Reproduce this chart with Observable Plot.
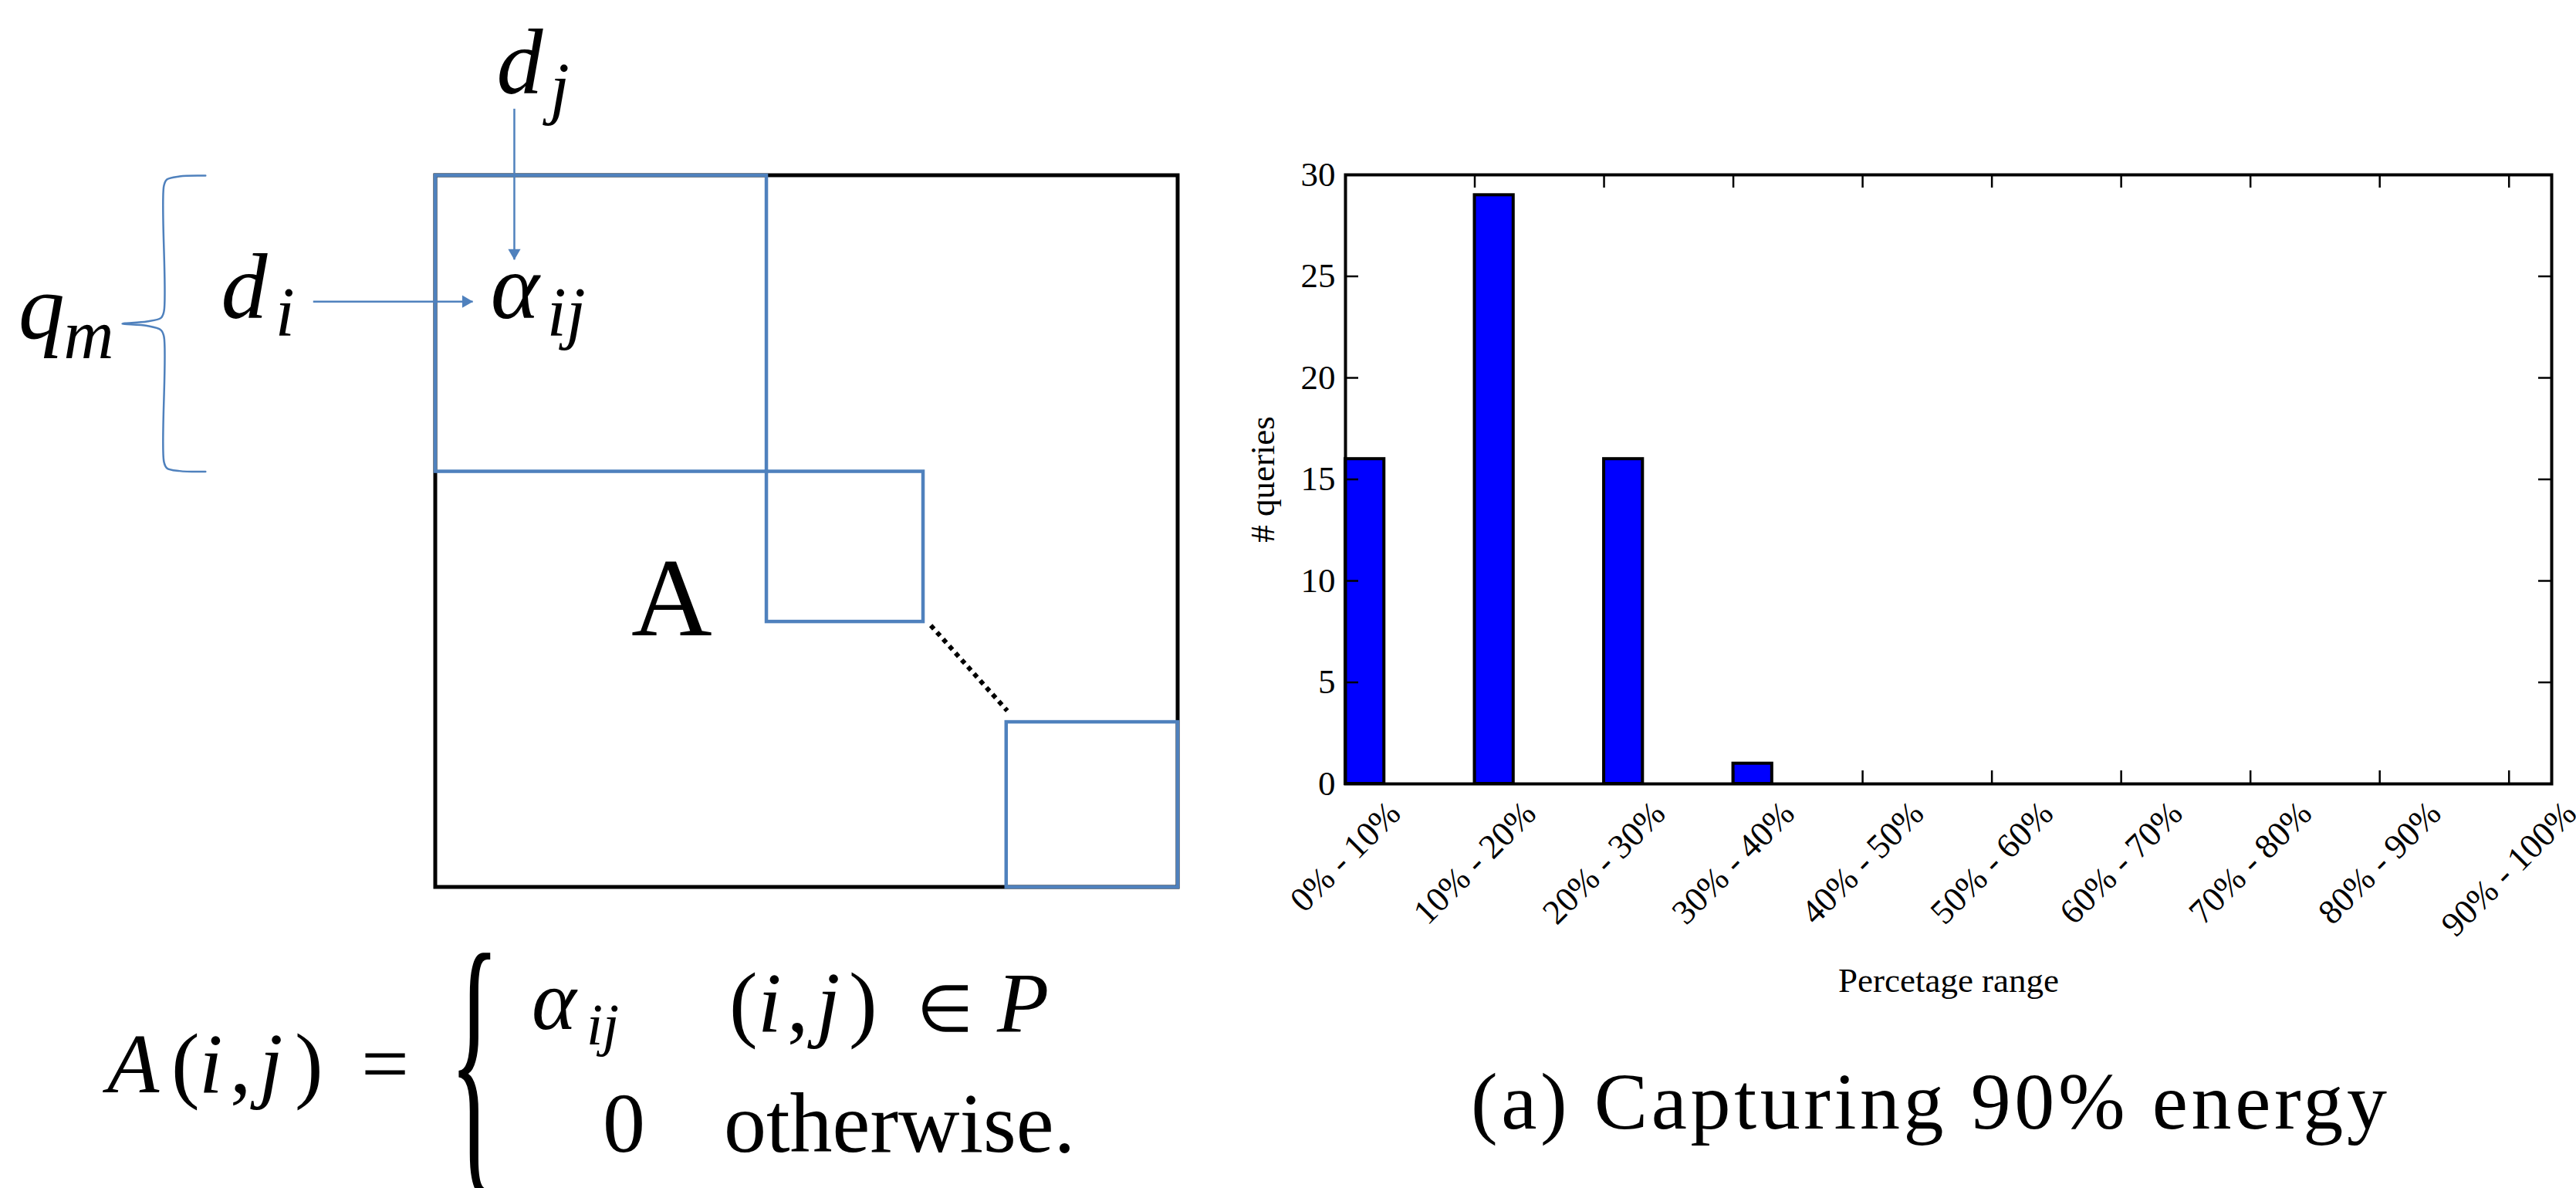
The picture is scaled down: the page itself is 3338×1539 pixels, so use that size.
<!DOCTYPE html>
<html>
<head>
<meta charset="utf-8">
<script src="https://cdn.jsdelivr.net/npm/d3@7"></script>
<script src="https://cdn.jsdelivr.net/npm/@observablehq/plot@0.6"></script>
<style>
  html, body { margin: 0; padding: 0; background: #fff; }
  #page { position: relative; width: 3338px; height: 1539px; overflow: hidden; background: #fff; font-family: "Liberation Serif", "Times New Roman", serif; }
  #diagram, #chart, #formula, #caption { position: absolute; }
  #caption { left: 1906px; top: 1375px; font-size: 104px; line-height: 1; letter-spacing: 4.6px; white-space: nowrap; color: #000; }
</style>
</head>
<body>
<div id="page">
  <div id="diagram" style="left:0;top:0"></div>
  <svg id="formula" width="1600" height="1539" style="left:0;top:0;overflow:visible" font-family="'Liberation Serif', 'Times New Roman', serif" fill="#000">
    <text y="1415" font-size="110"><tspan x="139" font-style="italic">A</tspan><tspan x="222">(</tspan><tspan x="258" font-style="italic">i</tspan><tspan x="298">,</tspan><tspan x="336" font-style="italic">j</tspan><tspan x="382">)</tspan><tspan x="468">=</tspan></text>
    <text transform="translate(582,1498) scale(0.36,1)" font-size="380">{</text>
    <text y="1333" font-size="110" font-style="italic"><tspan x="689">α</tspan></text>
    <text y="1353" font-size="76" font-style="italic"><tspan x="760">ij</tspan></text>
    <text y="1336" font-size="110"><tspan x="945">(</tspan><tspan x="982" font-style="italic">i</tspan><tspan x="1020">,</tspan><tspan x="1058" font-style="italic">j</tspan><tspan x="1100">)</tspan><tspan x="1188" font-size="84">∈</tspan><tspan x="1292" font-style="italic">P</tspan></text>
    <text y="1492" font-size="110"><tspan x="781">0</tspan><tspan x="938">otherwise.</tspan></text>
  </svg>
  <div id="chart" style="left:1600px;top:0"></div>
  <div id="caption">(a) Capturing 90% energy</div>
</div>
<script>
// ---------------- Bar chart data ----------------
const categories = ["0% - 10%", "10% - 20%", "20% - 30%", "30% - 40%", "40% - 50%",
                    "50% - 60%", "60% - 70%", "70% - 80%", "80% - 90%", "90% - 100%"];
const queryCounts = [16, 29, 16, 1, 0, 0, 0, 0, 0, 0];
const yTickValues = [0, 5, 10, 15, 20, 25, 30];
const yLabel = "# queries";
const xLabel = "Percetage range";

// ---------------- Diagram data (matrix units: 0..100 across matrix A) ----------------
const matrixBounds = [{c0: 0, c1: 100, r0: 0, r1: 100}];
const diagonalBlocks = [
  {c0: 0,    c1: 44.6, r0: 0,    r1: 41.6},
  {c0: 44.6, c1: 65.7, r0: 41.6, r1: 62.7},
  {c0: 76.9, c1: 100,  r0: 76.8, r1: 100}
];
const ellipsis = [{c0: 66.7, r0: 63.2, c1: 77.0, r1: 75.2}];
const pointerArrows = [
  {name: "dj", c0: 10.6,  r0: -9.4, c1: 10.6, r1: 11.8},
  {name: "di", c0: -16.5, r0: 17.7, c1: 5.0,  r1: 17.7}
];
const braceCurve = [
  {c: -31.0, r: 0}, {c: -34.5, r: 0.11}, {c: -36.2, r: 0.54}, {c: -36.6, r: 1.41},
  {c: -36.6, r: 19.1}, {c: -37.0, r: 20.0}, {c: -38.9, r: 20.5}, {c: -42.2, r: 20.8},
  {c: -38.9, r: 21.1}, {c: -37.0, r: 21.7}, {c: -36.6, r: 22.6}, {c: -36.6, r: 40.2},
  {c: -36.2, r: 41.1}, {c: -34.5, r: 41.5}, {c: -31.0, r: 41.6}
];
const mainSymbols = [
  {t: "d", c: 8.2,   r: -11.6},
  {t: "d", c: -28.9, r: 20.0},
  {t: "α", c: 7.4,   r: 20.0},
  {t: "q", c: -56.2, r: 22.8}
];
const subSymbols = [
  {t: "j",  c: 15.4,  r: -9.1},
  {t: "i",  c: -21.6, r: 22.5},
  {t: "ij", c: 15.0,  r: 22.5},
  {t: "m",  c: -50.1, r: 25.6}
];
const matrixName = [{t: "A", c: 31.8, r: 64.6}];

const FONT = "'Liberation Serif', 'Times New Roman', serif";
const BLUE_LINE = "#4f81bd";

// ---------------- Diagram ----------------
const diagram = Plot.plot({
  width: 1600, height: 1539, margin: 0,
  x: {domain: [0, 100], range: [564, 1526], axis: null},
  y: {domain: [0, 100], range: [227, 1149], axis: null},
  style: {fontFamily: FONT, background: "transparent", overflow: "visible"},
  marks: [
    Plot.rect(matrixBounds, {x1: "c0", x2: "c1", y1: "r0", y2: "r1", fill: "none", stroke: "black", strokeWidth: 5}),
    Plot.link(ellipsis, {x1: "c0", y1: "r0", x2: "c1", y2: "r1", stroke: "black", strokeWidth: 6, strokeDasharray: "6,6"}),
    Plot.rect(diagonalBlocks, {x1: "c0", x2: "c1", y1: "r0", y2: "r1", fill: "none", stroke: BLUE_LINE, strokeWidth: 4.5}),
    Plot.line(braceCurve, {x: "c", y: "r", curve: "catmull-rom", stroke: BLUE_LINE, strokeWidth: 2.5}),
    Plot.link(pointerArrows, {x1: "c0", y1: "r0", x2: "c1", y2: "r1", stroke: BLUE_LINE, strokeWidth: 2.5}),
    Plot.dot(pointerArrows.filter(d => d.name === "dj"), {x: "c1", y: "r1", symbol: "triangle", r: 6, rotate: 180, dy: -9, fill: BLUE_LINE, stroke: "none"}),
    Plot.dot(pointerArrows.filter(d => d.name === "di"), {x: "c1", y: "r1", symbol: "triangle", r: 6, rotate: 90, dx: -9, fill: BLUE_LINE, stroke: "none"}),
    Plot.text(mainSymbols, {x: "c", y: "r", text: "t", fontSize: 120, fontStyle: "italic", textAnchor: "start", lineAnchor: "bottom", fontFamily: FONT, fill: "black"}),
    Plot.text(subSymbols, {x: "c", y: "r", text: "t", fontSize: 90, fontStyle: "italic", textAnchor: "start", lineAnchor: "bottom", fontFamily: FONT, fill: "black"}),
    Plot.text(matrixName, {x: "c", y: "r", text: "t", fontSize: 145, textAnchor: "middle", lineAnchor: "bottom", fontFamily: FONT, fill: "black"})
  ]
});
document.getElementById("diagram").appendChild(diagram);

// ---------------- Bar chart ----------------
const W = 1738, H = 1300, mL = 143, mR = 32, mT = 226, mB = 285;
const fw = W - mL - mR, fh = H - mT - mB;
const FS = 45, TICK = 17, BAR_W = 0.3;
const rows = categories.map((c, i) => ({category: c, idx: i, value: queryCounts[i]}));

const ctx = document.createElement("canvas").getContext("2d");
ctx.font = `${FS}px "Liberation Serif"`;
const textLen = s => ctx.measureText(s).width;

const chart = Plot.plot({
  width: W, height: H,
  marginLeft: mL, marginRight: mR, marginTop: mT, marginBottom: mB,
  x: {domain: [0, 9.33], axis: null},
  y: {domain: [0, 30], axis: null},
  style: {fontFamily: FONT, background: "transparent", overflow: "visible", color: "black"},
  marks: [
    Plot.rectY(rows, {x1: "idx", x2: d => d.idx + BAR_W, y: "value", fill: "#0000ff", stroke: "black", strokeWidth: 4}),
    Plot.tickY(yTickValues, {y: d => d, insetRight: fw - TICK, stroke: "black", strokeWidth: 2.5}),
    Plot.tickY(yTickValues, {y: d => d, insetLeft: fw - TICK, stroke: "black", strokeWidth: 2.5}),
    Plot.tickX(rows, {x: "idx", insetBottom: fh - TICK, stroke: "black", strokeWidth: 2.5}),
    Plot.tickX(rows, {x: "idx", insetTop: fh - TICK, stroke: "black", strokeWidth: 2.5}),
    Plot.frame({stroke: "black", strokeWidth: 4}),
    Plot.text(yTickValues, {frameAnchor: "left", y: d => d, text: d => String(d), textAnchor: "end", lineAnchor: "middle", dx: -13, fontSize: FS, fontFamily: FONT, fill: "black"}),
    Plot.text([yLabel], {frameAnchor: "left", text: d => d, rotate: -90, textAnchor: "middle", lineAnchor: "middle", dx: -107, fontSize: FS, fontFamily: FONT, fill: "black"}),
    ...rows.map(r => Plot.text([r], {
      x: "idx", frameAnchor: "bottom", text: "category", rotate: -45,
      textAnchor: "middle", lineAnchor: "middle",
      dy: 20 + (textLen(r.category) + 0.68 * FS) * Math.SQRT1_2 / 2,
      fontSize: FS, fontFamily: FONT, fill: "black"
    })),
    Plot.text([xLabel], {frameAnchor: "bottom", text: d => d, textAnchor: "middle", dy: 269, lineAnchor: "bottom", fontSize: FS, fontFamily: FONT, fill: "black"})
  ]
});
document.getElementById("chart").appendChild(chart);
</script>
</body>
</html>
